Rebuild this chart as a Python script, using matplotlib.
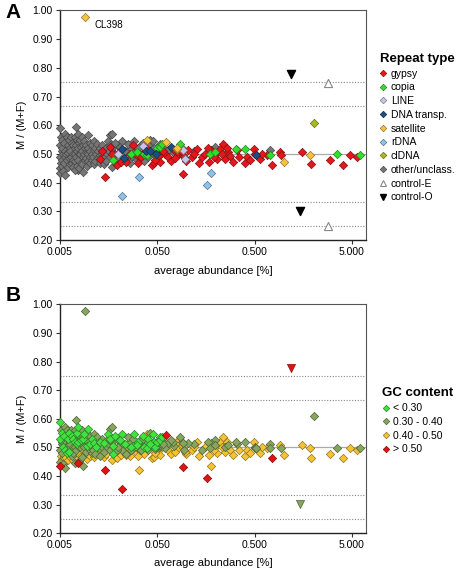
import matplotlib
matplotlib.use("Agg")
import matplotlib.pyplot as plt
from matplotlib.lines import Line2D
from matplotlib.ticker import FixedLocator, FixedFormatter, NullLocator

plt.rcParams['font.family'] = ['Liberation Sans', 'DejaVu Sans']

# ---------------- data: (abundance %, M/(M+F), GC class) ----------------
# GC classes: 0 = <0.30, 1 = 0.30-0.40, 2 = 0.40-0.50, 3 = >0.50
other_x = [0.0050, 0.0051, 0.0050, 0.0052, 0.0050, 0.0051, 0.0050, 0.0050,
           0.0053, 0.0052, 0.0054, 0.0053, 0.0052, 0.0054,
           0.0056, 0.0055, 0.0057, 0.0056, 0.0055, 0.0057,
           0.0059, 0.0060, 0.0058, 0.0059, 0.0060,
           0.0062, 0.0063, 0.0061, 0.0062, 0.0063, 0.0076,
           0.0065, 0.0066, 0.0064, 0.0065, 0.0066,
           0.0068, 0.0069, 0.0068, 0.0069,
           0.0071, 0.0072, 0.0071, 0.0072, 0.0071,
           0.0074, 0.0075, 0.0074, 0.0075, 0.0074, 0.0075,
           0.0077, 0.0078, 0.0077, 0.0078, 0.0077, 0.0078,
           0.0081, 0.0082, 0.0081, 0.0082,
           0.0085, 0.0086, 0.0085, 0.0086, 0.0085, 0.0086,
           0.0089, 0.0090, 0.0089, 0.0090,
           0.0093, 0.0094, 0.0093, 0.0094,
           0.0097, 0.0098, 0.0097, 0.0098,
           0.0101, 0.0103, 0.0102, 0.0101,
           0.0106, 0.0107, 0.0106,
           0.0111, 0.0112, 0.0110, 0.0112,
           0.0116, 0.0117, 0.0116,
           0.0121, 0.0123, 0.0122,
           0.0129, 0.0130, 0.0129,
           0.0136, 0.0137,
           0.0142, 0.0143, 0.0142,
           0.0151, 0.0152, 0.0150,
           0.0162, 0.0160, 0.0163,
           0.0172, 0.0170, 0.0171,
           0.0181, 0.0183,
           0.0192, 0.0190,
           0.021, 0.022, 0.023, 0.024, 0.026, 0.027, 0.030, 0.031, 0.034, 0.035,
           0.038, 0.040, 0.042, 0.044, 0.050, 0.052, 0.060, 0.075, 0.090, 0.095,
           0.120, 0.197, 0.250, 0.500, 0.720,
           0.0155, 0.0165, 0.0175, 0.0185, 0.0195, 0.0205, 0.022, 0.0235, 0.025, 0.0265,
           0.028, 0.029, 0.032, 0.033, 0.036, 0.037, 0.040, 0.041, 0.045, 0.046,
           0.048, 0.053, 0.055, 0.058, 0.065]
other_y = [0.590, 0.560, 0.530, 0.510, 0.490, 0.470, 0.450, 0.435,
           0.550, 0.520, 0.500, 0.480, 0.460, 0.440,
           0.570, 0.540, 0.510, 0.490, 0.470, 0.428,
           0.560, 0.530, 0.500, 0.480, 0.455,
           0.550, 0.520, 0.505, 0.485, 0.465, 0.446,
           0.560, 0.540, 0.510, 0.490, 0.470,
           0.530, 0.500, 0.480, 0.455,
           0.560, 0.520, 0.500, 0.475, 0.445,
           0.594, 0.550, 0.530, 0.510, 0.490, 0.460,
           0.570, 0.540, 0.520, 0.500, 0.480, 0.452,
           0.550, 0.525, 0.500, 0.470,
           0.560, 0.530, 0.510, 0.490, 0.465, 0.436,
           0.545, 0.520, 0.500, 0.480,
           0.530, 0.505, 0.485, 0.460,
           0.565, 0.520, 0.500, 0.475,
           0.540, 0.510, 0.490, 0.470,
           0.530, 0.500, 0.480,
           0.545, 0.515, 0.490, 0.465,
           0.520, 0.500, 0.475,
           0.535, 0.510, 0.485,
           0.520, 0.495, 0.470,
           0.530, 0.500,
           0.515, 0.485, 0.465,
           0.525, 0.500, 0.475,
           0.565, 0.510, 0.490,
           0.570, 0.520, 0.455,
           0.500, 0.480,
           0.530, 0.465,
           0.515, 0.490, 0.500, 0.475, 0.520, 0.490, 0.510, 0.480, 0.530, 0.500,
           0.520, 0.490, 0.550, 0.510, 0.520, 0.500, 0.510, 0.505, 0.520, 0.490,
           0.510, 0.525, 0.500, 0.500, 0.513,
           0.545, 0.530, 0.505, 0.540, 0.490, 0.525, 0.545, 0.510, 0.535, 0.470,
           0.505, 0.545, 0.520, 0.490, 0.540, 0.475, 0.530, 0.505, 0.545, 0.520,
           0.495, 0.535, 0.505, 0.520, 0.515]
other_gc = [0, 1, 0, 1, 1, 2, 1, 3,
            0, 1, 0, 1, 2, 1,
            1, 0, 1, 0, 2, 1,
            1, 0, 1, 0, 2,
            0, 1, 1, 0, 2, 3,
            1, 0, 1, 2, 1,
            0, 1, 1, 2,
            1, 0, 1, 2, 1,
            1, 0, 1, 0, 1, 2,
            0, 1, 0, 1, 2, 1,
            1, 0, 1, 2,
            1, 0, 1, 2, 1, 1,
            0, 1, 1, 2,
            1, 0, 1, 2,
            0, 1, 1, 2,
            1, 0, 1, 2,
            0, 1, 1,
            1, 0, 1, 2,
            1, 0, 1,
            1, 1, 2,
            0, 1, 1,
            1, 1,
            0, 1, 2,
            1, 1, 2,
            1, 1, 1,
            1, 1, 2,
            1, 2,
            1, 2,
            1, 1, 2, 1, 1, 1, 1, 2, 1, 1,
            1, 1, 1, 1, 1, 1, 1, 1, 1, 1,
            1, 1, 1, 1, 1,
            0, 0, 0, 0, 1, 0, 0, 0, 1, 2,
            0, 0, 0, 1, 0, 2, 0, 1, 0, 0,
            1, 0, 1, 1, 1]

gypsy_x = [0.0137, 0.0129, 0.0145, 0.0163, 0.0184, 0.0191, 0.021, 0.024, 0.028, 0.031,
           0.032, 0.034, 0.039, 0.044, 0.046, 0.052, 0.054, 0.060, 0.065, 0.069,
           0.073, 0.081, 0.093, 0.093, 0.104, 0.113, 0.128, 0.136, 0.143, 0.155,
           0.172, 0.180, 0.200, 0.205, 0.220, 0.236, 0.250, 0.270, 0.280, 0.300,
           0.330, 0.400, 0.420, 0.490, 0.500, 0.570, 0.670, 0.750, 0.920, 0.940,
           1.53, 1.90, 2.98, 4.05, 4.78, 5.6,
           0.017, 0.026, 0.036, 0.048, 0.057, 0.077, 0.087, 0.098, 0.120, 0.165,
           0.190, 0.230, 0.260, 0.350, 0.450, 0.600]
gypsy_y = [0.511, 0.484, 0.420, 0.525, 0.499, 0.461, 0.472, 0.472, 0.530, 0.496,
           0.469, 0.490, 0.519, 0.461, 0.467, 0.492, 0.472, 0.499, 0.490, 0.476,
           0.519, 0.499, 0.430, 0.496, 0.515, 0.490, 0.519, 0.469, 0.490, 0.501,
           0.472, 0.515, 0.504, 0.481, 0.519, 0.536, 0.484, 0.507, 0.492, 0.472,
           0.513, 0.469, 0.490, 0.519, 0.499, 0.481, 0.496, 0.461, 0.507, 0.496,
           0.507, 0.464, 0.478, 0.461, 0.496, 0.489,
           0.500, 0.500, 0.505, 0.480, 0.510, 0.485, 0.510, 0.475, 0.500, 0.520,
           0.490, 0.500, 0.520, 0.490, 0.480, 0.500]
gypsy_gc = [2, 2, 3, 1, 2, 2, 2, 2, 1, 2,
            2, 1, 1, 2, 2, 2, 2, 1, 2, 2,
            1, 2, 3, 2, 1, 2, 2, 2, 1, 2,
            2, 1, 2, 2, 2, 2, 2, 1, 2, 2,
            1, 2, 2, 2, 1, 2, 2, 3, 2, 1,
            2, 2, 2, 2, 2, 2,
            2, 2, 2, 2, 1, 2, 2, 2, 2, 1,
            2, 2, 2, 2, 2, 2]

copia_x = [0.0177, 0.027, 0.031, 0.037, 0.039, 0.048, 0.050, 0.053, 0.056, 0.085,
           0.175, 0.197, 0.32, 0.40, 0.72, 3.5, 6.1]
copia_y = [0.478, 0.500, 0.507, 0.500, 0.496, 0.500, 0.520, 0.525, 0.536, 0.535,
           0.499, 0.507, 0.519, 0.519, 0.496, 0.499, 0.496]
copia_gc = [0, 0, 0, 0, 0, 0, 0, 0, 0, 1,
            1, 1, 1, 1, 1, 1, 1]

line_x = [0.036, 0.091, 0.097, 0.020]
line_y = [0.528, 0.515, 0.482, 0.500]
line_gc = [1, 1, 2, 1]

dna_x = [0.0215, 0.023, 0.038, 0.042, 0.049, 0.070, 0.52]
dna_y = [0.516, 0.485, 0.510, 0.510, 0.500, 0.525, 0.498]
dna_gc = [1, 2, 1, 0, 1, 1, 1]

sat_x = [0.009, 0.039, 0.062, 0.079, 1.01, 1.84, 0.080]
sat_y = [0.977, 0.548, 0.542, 0.519, 0.472, 0.496, 0.520]
sat_gc = [1, 2, 3, 2, 2, 2, 2]

rdna_x = [0.0216, 0.0327, 0.178, 0.164]
rdna_y = [0.355, 0.420, 0.434, 0.392]
rdna_gc = [3, 2, 2, 3]

cldna_x = [2.06]
cldna_y = [0.608]
cldna_gc = [1]

ctrlE_x = [2.82, 2.82]
ctrlE_y = [0.747, 0.249]

ctrlO_x = [1.18, 1.48]
ctrlO_y = [0.777, 0.302]
ctrlO_gc = [3, 1]

ref_dotted = [0.75, 2 / 3, 1 / 3, 0.25]
ref_solid = 0.5

xticks = [0.005, 0.05, 0.5, 5.0]
xtick_labels = ["0.005", "0.050", "0.500", "5.000"]
yticks = [0.2, 0.3, 0.4, 0.5, 0.6, 0.7, 0.8, 0.9, 1.0]

type_names = ["gypsy", "copia", "LINE", "DNA transp.", "satellite", "rDNA",
              "clDNA", "other/unclass."]
type_colors = ["#e5171c", "#33dd2e", "#c9c6ee", "#1c4e7e", "#f6c23f", "#8fc2ea",
               "#a7bb1f", "#767676"]
gc_names = ["< 0.30", "0.30 - 0.40", "0.40 - 0.50", "> 0.50"]
gc_colors = ["#42e040", "#86a55e", "#f4c233", "#e11212"]

groups = [  # plotted in this order (bottom to top)
    (7, other_x, other_y, other_gc),
    (0, gypsy_x, gypsy_y, gypsy_gc),
    (1, copia_x, copia_y, copia_gc),
    (2, line_x, line_y, line_gc),
    (3, dna_x, dna_y, dna_gc),
    (4, sat_x, sat_y, sat_gc),
    (5, rdna_x, rdna_y, rdna_gc),
    (6, cldna_x, cldna_y, cldna_gc),
]


def darker(c, f=0.6):
    import matplotlib.colors as mc
    r, g, b = mc.to_rgb(c)
    return (r * f, g * f, b * f)


fig = plt.figure(figsize=(4.57, 5.72), dpi=100)
axA = fig.add_axes([0.131, 0.580, 0.670, 0.402])
axB = fig.add_axes([0.131, 0.068, 0.670, 0.400])

MS = 18
TS = 34


def style_axes(ax):
    ax.set_xscale("log")
    ax.set_xlim(0.005, 7.0)
    ax.set_ylim(0.2, 1.0)
    ax.xaxis.set_major_locator(FixedLocator(xticks))
    ax.xaxis.set_major_formatter(FixedFormatter(xtick_labels))
    ax.xaxis.set_minor_locator(NullLocator())
    ax.set_yticks(yticks)
    ax.set_yticklabels([f"{v:.2f}" for v in yticks])
    ax.tick_params(labelsize=7.5, length=3, width=0.8, color="#333333", pad=2)
    for s in ["top", "right"]:
        ax.spines[s].set_color("#555555")
        ax.spines[s].set_linewidth(0.8)
    for s in ["left", "bottom"]:
        ax.spines[s].set_color("#222222")
        ax.spines[s].set_linewidth(1.0)
    for v in ref_dotted:
        ax.axhline(v, color="#888888", lw=0.8, ls=(0, (1, 1.5)), zorder=1)
    ax.axhline(ref_solid, color="#aaaaaa", lw=0.9, zorder=1)
    ax.set_ylabel("M / (M+F)", fontsize=8)
    ax.set_xlabel("average abundance [%]", fontsize=8, labelpad=6)


style_axes(axA)
style_axes(axB)

# Panel A: by repeat type
z = 3
for ti, xs, ys, gcs in groups:
    axA.scatter(xs, ys, marker="D", s=MS, c=type_colors[ti],
                edgecolors=[darker(type_colors[ti])], linewidths=0.5,
                zorder=z, clip_on=False)
    z += 0.1
axA.scatter(ctrlE_x, ctrlE_y, marker="^", s=TS, facecolors="white",
            edgecolors="#888888", linewidths=0.8, zorder=5)
axA.scatter(ctrlO_x, ctrlO_y, marker="v", s=TS, c="black", zorder=5)
axA.annotate("CL398", xy=(sat_x[0], sat_y[0]), xytext=(7, -6),
             textcoords="offset points", fontsize=7, va="center")

# Panel B: by GC content (yellow at bottom, then olive, green, red)
z = 3
for g in [2, 1, 0, 3]:
    for ti, xs, ys, gcs in groups:
        px = [x for x, k in zip(xs, gcs) if k == g]
        py = [y for y, k in zip(ys, gcs) if k == g]
        if px:
            axB.scatter(px, py, marker="D", s=MS, c=gc_colors[g],
                        edgecolors=[darker(gc_colors[g])], linewidths=0.5,
                        zorder=z, clip_on=False)
            z += 0.01
for x, y, g in zip(ctrlO_x, ctrlO_y, ctrlO_gc):
    axB.scatter([x], [y], marker="v", s=TS, c=gc_colors[g],
                edgecolors=[darker(gc_colors[g])], linewidths=0.5, zorder=5)

# Legends
hA = [Line2D([], [], ls="none", marker="D", markersize=3.3,
             markerfacecolor=c, markeredgecolor=darker(c), markeredgewidth=0.5)
      for c in type_colors]
hA.append(Line2D([], [], ls="none", marker="^", markersize=5,
                 markerfacecolor="white", markeredgecolor="#888888", markeredgewidth=0.8))
hA.append(Line2D([], [], ls="none", marker="v", markersize=5,
                 markerfacecolor="black", markeredgecolor="black"))
legA = fig.legend(hA, type_names + ["control-E", "control-O"],
                  loc="upper left", bbox_to_anchor=(0.822, 0.915),
                  frameon=False, fontsize=7.5, title="Repeat type",
                  title_fontproperties={"weight": "bold", "size": 9.5},
                  handlelength=0.7, handletextpad=0.35, labelspacing=0.36,
                  alignment="left", borderaxespad=0)

hB = [Line2D([], [], ls="none", marker="D", markersize=3.3,
             markerfacecolor=c, markeredgecolor=darker(c), markeredgewidth=0.5)
      for c in gc_colors]
legB = fig.legend(hB, gc_names, loc="upper left", bbox_to_anchor=(0.827, 0.33),
                  frameon=False, fontsize=7.5, title="GC content",
                  title_fontproperties={"weight": "bold", "size": 9.5},
                  handlelength=0.7, handletextpad=0.35, labelspacing=0.36,
                  alignment="left", borderaxespad=0)

fig.text(0.012, 0.995, "A", fontsize=15, fontweight="bold", va="top")
fig.text(0.012, 0.500, "B", fontsize=15, fontweight="bold", va="top")

fig.savefig("out.png", dpi=100)
